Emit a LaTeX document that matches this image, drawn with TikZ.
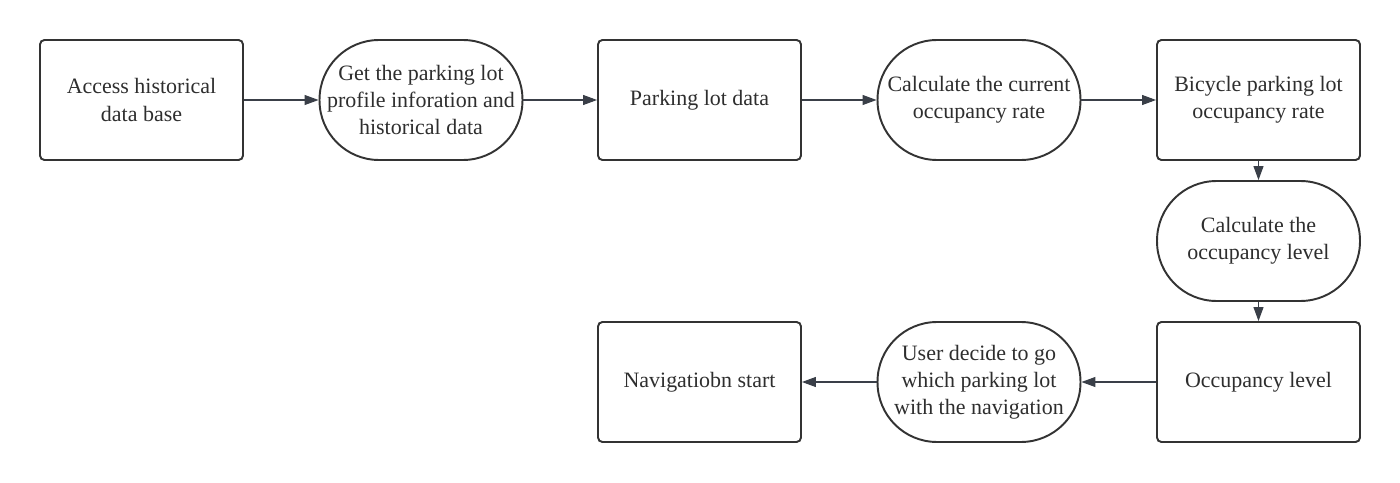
\documentclass[tikz,border=0pt]{standalone}
\usepackage{fontspec}
\setmainfont{Liberation Serif}
\usetikzlibrary{arrows.meta}
\definecolor{boxline}{HTML}{333333}
\definecolor{arrowline}{HTML}{3A3F48}
\tikzset{
  stepbox/.style={draw=boxline,line width=1.1pt,rounded corners=2.5pt,minimum width=4.06cm,minimum height=2.4cm,align=center,font=\fontsize{12.5}{15.5}\selectfont,text=boxline!90!black},
  procbox/.style={stepbox,rounded corners=1.19cm},
  flow/.style={draw=arrowline,line width=0.6pt,-{Triangle[length=0.28cm,width=0.2cm]}}
}
\begin{document}
\begin{tikzpicture}[x=0.02cm,y=-0.02cm]
				\useasboundingbox (0,0) rectangle (1400,483);
				
				\node[stepbox] (access) at (141.5,100) {Access historical\\data base};
				\node[procbox] (getdata) at (421,100) {Get the parking lot\\profile inforation and\\historical data};
				\node[stepbox] (lotdata) at (699.5,100) {Parking lot data};
				\node[procbox] (calcrate) at (979,100) {Calculate the current\\occupancy rate};
				\node[stepbox] (rate) at (1258.5,100) {Bicycle parking lot\\occupancy rate};
				
				\node[procbox] (calclevel) at (1258.5,241) {Calculate the\\occupancy level};
				
				\node[stepbox] (level) at (1258.5,382) {Occupancy level};
				\node[procbox] (decide) at (979,382) {User decide to go\\which parking lot\\with the navigation};
				\node[stepbox] (navi) at (699.5,382) {Navigatiobn start};
				
				\draw[flow] (access) -- (getdata);
				\draw[flow] (getdata) -- (lotdata);
				\draw[flow] (lotdata) -- (calcrate);
				\draw[flow] (calcrate) -- (rate);
				\draw[flow] (rate) -- (calclevel);
				\draw[flow] (calclevel) -- (level);
				\draw[flow] (level) -- (decide);
				\draw[flow] (decide) -- (navi);
\end{tikzpicture}
\end{document}
